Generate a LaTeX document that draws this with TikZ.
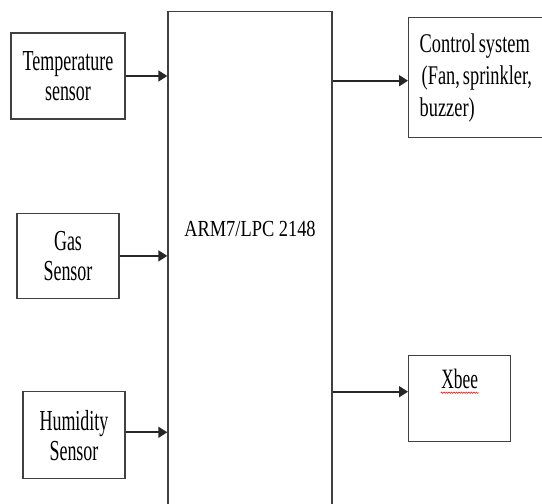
\documentclass[tikz,border=0pt]{standalone}
\usepackage{fontspec}
\setmainfont{Liberation Serif}[FakeStretch=0.62]
\newfontfamily\armfont{Liberation Serif}[FakeStretch=0.8]
\newfontfamily\ctrlfont{Liberation Serif}[FakeStretch=0.68]
\newcommand\tightspace{\spaceskip=3pt\relax}
\usetikzlibrary{arrows.meta, positioning, decorations.pathmorphing}

\begin{document}
\begin{tikzpicture}[x=1pt, y=1pt,
    block/.style={rectangle, draw=black!75, line width=1.4pt, fill=white, align=center, inner sep=3pt, font=\fontsize{29}{30}\selectfont},
    sensor/.style={block, minimum width=102pt, minimum height=86pt},
    arrow/.style={-{Triangle[length=9pt, width=11pt]}, line width=1.7pt, draw=black!85},
    squiggle/.style={red, line width=0.5pt, decorate, decoration={snake, segment length=2.5pt, amplitude=0.7pt}}]

    \useasboundingbox (0,0) rectangle (542,504);
    \clip (0,0) rectangle (542,504);

    % Controller
    \node [block, anchor=north, minimum width=164pt, text height=222pt, text depth=281pt, font=\armfont\fontsize{23}{28}\selectfont] (arm) at (250,493) {ARM7/LPC 2148};

    % Sensors
    \node [sensor, minimum width=114pt] (temp) at (68,428) {Temperature\\sensor};
    \node [sensor, minimum height=85pt, below=93pt of temp] (gas) {Gas\\Sensor};
    \node [sensor, minimum height=87pt, below=92pt of gas, xshift=6pt] (hum) {Humidity\\Sensor};

    % Outputs
    \node [block, anchor=north west, minimum height=120pt, text width=130pt, inner xsep=11pt, align=left, font=\ctrlfont\fontsize{27}{32}\selectfont] (ctrl) at (408,487) {\tightspace Control system\\\hspace*{2pt}(Fan, sprinkler,\\buzzer)};
    \node [block, anchor=north west, minimum width=102pt, text height=30pt, text depth=50pt, font=\fontsize{28}{32}\selectfont] (xbee) at (408,149) {Xbee};
    \draw [squiggle] ([xshift=-19pt, yshift=-4pt]xbee.base) -- ([xshift=19pt, yshift=-4pt]xbee.base);

    \coordinate (ctrlin) at ([yshift=-3pt]ctrl.west);
    \coordinate (xbeein) at ([yshift=7pt]xbee.west);
    \coordinate (humout) at ([yshift=3pt]hum.east);

    % Arrows
    \draw [arrow] (temp.east) -- (temp.east -| arm.west);
    \draw [arrow] (gas.east) -- (gas.east -| arm.west);
    \draw [arrow] (humout) -- (humout -| arm.west);
    \draw [arrow] (arm.east |- ctrlin) -- (ctrlin);
    \draw [arrow] (arm.east |- xbeein) -- (xbeein);

\end{tikzpicture}
\end{document}
